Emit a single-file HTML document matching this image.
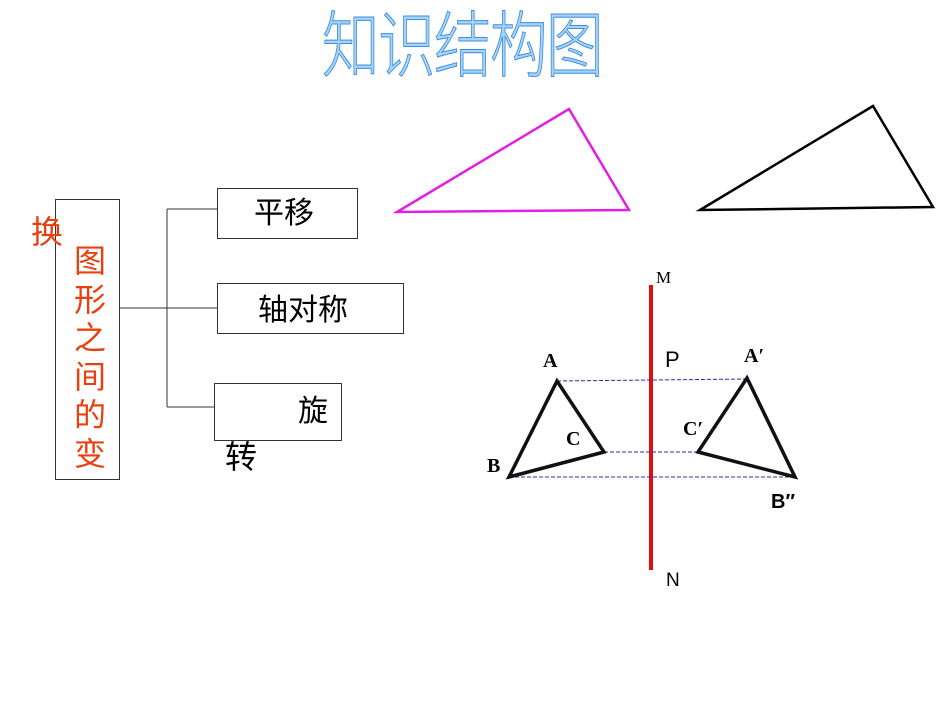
<!DOCTYPE html>
<html><head><meta charset="utf-8"><style>
body{margin:0;width:950px;height:713px;background:#fff;position:relative;overflow:hidden;font-family:"Liberation Sans","Noto Sans CJK SC",sans-serif}
.a{position:absolute}
.box{position:absolute;border:1px solid #333;background:#fff}
</style></head><body>
<div class="a" style="left:322px;top:4px;font-size:72px;line-height:86px;color:#a9d3f7;-webkit-text-stroke:1px #3c8ee0;font-weight:300;letter-spacing:-2px;transform:scaleX(0.8);transform-origin:0 0;white-space:nowrap">知识结构图</div>
<svg class="a" style="left:0;top:0" width="950" height="713">
<line x1="119" y1="308" x2="217" y2="308" stroke="#333"/>
<line x1="167" y1="209" x2="167" y2="407" stroke="#333"/>
<line x1="167" y1="209" x2="217" y2="209" stroke="#333"/>
<line x1="167" y1="407" x2="214" y2="407" stroke="#333"/>
<polygon points="397,212 569,109 629,210" fill="none" stroke="#e21fe2" stroke-width="2.5"/>
<polygon points="700,210 873,106 933,207" fill="none" stroke="#000" stroke-width="2.5"/>
<line x1="651" y1="285" x2="651" y2="570" stroke="#e01010" stroke-width="4"/>
<g stroke="#2a2ab0" stroke-dasharray="4,2" stroke-width="1">
<line x1="557" y1="381" x2="747" y2="379"/>
<line x1="604" y1="452" x2="698" y2="452"/>
<line x1="509" y1="477" x2="795" y2="477"/>
</g>
<polygon points="557,381 509,477 604,452" fill="none" stroke="#111" stroke-width="3.5"/>
<polygon points="747,378 698,452 795,477" fill="none" stroke="#111" stroke-width="3.5"/>
</svg>
<div class="box" style="left:55px;top:199px;width:63px;height:279px"></div>
<div class="a" style="left:74px;top:242px;width:38px;font-size:32px;line-height:38.5px;color:#e8400f">图形之间的变</div>
<div class="a" style="left:31px;top:207px;font-size:32px;color:#e8400f">换</div>
<div class="box" style="left:217px;top:188px;width:139px;height:49px;font-size:30px;line-height:49px;text-indent:36px">平移</div>
<div class="box" style="left:217px;top:283px;width:185px;height:49px;font-size:30px;line-height:54px;text-indent:40px">轴对称</div>
<div class="box" style="left:214px;top:383px;width:126px;height:56px;font-size:30px;line-height:56px;text-indent:83px">旋</div>
<div class="a" style="left:225px;top:432px;font-size:32px">转</div>
<div class="a" style="left:656px;top:268px;font-size:17px;font-family:'Liberation Serif',serif">M</div>
<div class="a" style="left:666px;top:570px;font-size:19px">N</div>
<div class="a" style="left:665px;top:347px;font-size:22px">P</div>
<div class="a" style="left:543px;top:350px;font-size:20px;font-family:'Liberation Serif',serif;font-weight:bold">A</div>
<div class="a" style="left:566px;top:428px;font-size:20px;font-family:'Liberation Serif',serif;font-weight:bold">C</div>
<div class="a" style="left:487px;top:455px;font-size:20px;font-family:'Liberation Serif',serif;font-weight:bold">B</div>
<div class="a" style="left:744px;top:345px;font-size:20px;font-family:'Liberation Serif',serif;font-weight:bold">A′</div>
<div class="a" style="left:683px;top:418px;font-size:20px;font-family:'Liberation Serif',serif;font-weight:bold">C′</div>
<div class="a" style="left:771px;top:491px;font-size:20px;font-weight:bold">B′′</div>
</body></html>
